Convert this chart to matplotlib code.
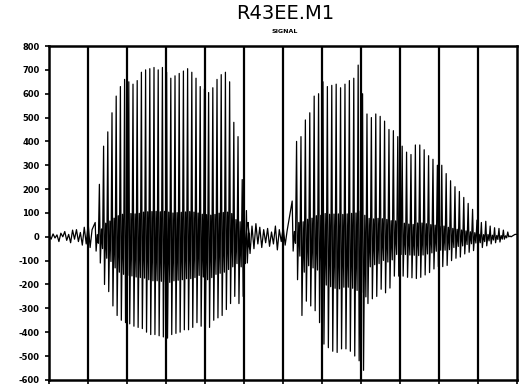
import numpy as np
import matplotlib.pyplot as plt

# glottal cycles, first vowel: peak / trough per cycle
seg1_start = 1.18
seg1_period = 0.1077
seg1_peaks = [60, 220, 380, 440, 520, 590, 630, 660, 650, 640, 655, 690, 700, 705,
              710, 700, 710, 690, 665, 675, 685, 695, 705, 690, 665, 630, 620, 605,
              625, 660, 680, 690, 650, 480, 420, 240, 110]
seg1_troughs = [-60, -110, -200, -230, -290, -330, -350, -360, -365, -375, -380, -385,
                -400, -410, -410, -415, -420, -425, -410, -405, -400, -390, -390, -380,
                -360, -375, -400, -380, -350, -340, -330, -305, -280, -250, -280, -250, -110]

# second vowel
seg2_start = 6.23
seg2_period = 0.1128
seg2_peaks = [150, 400, 420, 490, 520, 590, 600, 650, 630, 635, 640, 625, 640, 655,
              665, 720, 600, 515, 500, 515, 505, 485, 450, 445, 420, 380, 355, 345,
              385, 385, 365, 340, 325, 300, 300, 265, 235, 210, 190, 165, 140, 115,
              70, 60, 65, 45, 38, 35, 28, 20]
seg2_troughs = [-60, -180, -330, -270, -290, -310, -360, -450, -465, -480, -485, -470,
                -470, -480, -500, -520, -560, -280, -260, -250, -220, -235, -215, -165,
                -165, -165, -170, -172, -175, -170, -160, -150, -135, -125, -125, -120,
                -100, -90, -85, -72, -65, -58, -55, -45, -38, -30, -25, -22, -10, 0]

# background noise
noise_step = 0.05
pre_noise = [5, -10, 12, -5, 8, -20, 15, 0, 22, -15, 10, -25, 28, -10, 30, -20, 18,
             -35, 40, -30, 55, -45, 30]
gap_start = 5.10
gap_noise = [60, -70, 45, -50, 55, -30, 40, -45, 30, -25, 35, -40, 20, -30, 45, -55,
             30, -20, 40, -35, 25]
tail_level = 10

y_ticks = list(range(800, -700, -100))


def cycles(start, period, peaks, troughs):
    # each cycle: main spike, then a smaller ring-down inside it
    ts, vs = [], []
    for i, (p, q) in enumerate(zip(peaks, troughs)):
        t0 = start + i * period
        ts += [t0, t0 + 0.22 * period, t0 + 0.5 * period, t0 + 0.75 * period]
        vs += [p, q, 0.15 * p, 0.45 * q]
    return ts, vs


def build_signal():
    t, v = [], []
    for i, n in enumerate(pre_noise):
        t.append(i * noise_step)
        v.append(n)
    a, b = cycles(seg1_start, seg1_period, seg1_peaks, seg1_troughs)
    t += a
    v += b
    for i, n in enumerate(gap_noise):
        t.append(gap_start + i * noise_step)
        v.append(n)
    a, b = cycles(seg2_start, seg2_period, seg2_peaks, seg2_troughs)
    t += a
    v += b
    t += [t[-1] + 0.1, 12]
    v += [tail_level, tail_level]
    return t, v


def main():
    fig = plt.figure(figsize=(5.23, 3.9), dpi=100)
    ax = fig.add_axes([0.094, 0.026, 0.895, 0.856])
    t, v = build_signal()
    ax.plot(t, v, color='black', lw=0.9)
    for x in range(1, 12):
        ax.axvline(x, color='black', lw=1.6)
    ax.set_xlim(0, 12)
    ax.set_ylim(-600, 800)
    ax.set_xticks(range(0, 13))
    ax.set_xticklabels([])
    ax.set_yticks(y_ticks)
    ax.set_yticklabels([str(y) for y in y_ticks], fontsize=6, fontweight='bold')
    ax.tick_params(axis='both', direction='out', length=3, width=1.2, pad=4)
    for s in ax.spines.values():
        s.set_linewidth(1.8)
    fig.text(0.545, 0.965, 'R43EE.M1', ha='center', va='center', fontsize=14)
    fig.text(0.545, 0.918, 'SIGNAL', ha='center', va='center', fontsize=4.5,
             fontweight='bold')
    fig.savefig('out.png', dpi=100)


if __name__ == '__main__':
    main()
